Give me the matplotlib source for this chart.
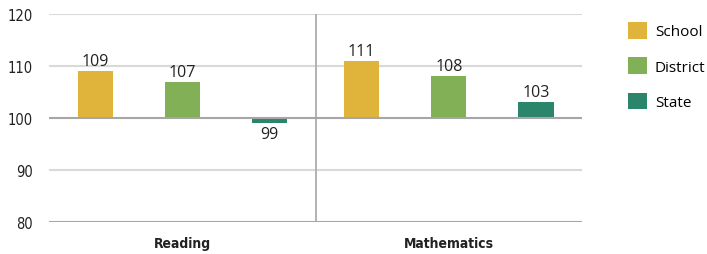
import numpy as np
import matplotlib
matplotlib.use('Agg')
import matplotlib.pyplot as plt
from matplotlib.patches import Patch

subjects = ['Reading', 'Mathematics']
series = ['School', 'District', 'State']
school = [109, 111]
district = [107, 108]
state = [99, 103]
colors = ['#E0B33A', '#82B056', '#2A856A']
baseline = 100

narrow = ['DejaVu Sans']
plain = ['Open Sans', 'DejaVu Sans']

fig = plt.figure(figsize=(7.07, 2.55), dpi=100)
ax = fig.add_axes([0.0693, 0.1255, 0.754, 0.8157])

x = np.arange(len(subjects)) + 0.5
offsets = [-0.327, 0.0, 0.327]
width = 0.1316
for vals, off, c in zip([school, district, state], offsets, colors):
    for xi, v in zip(x, vals):
        ax.bar(xi + off, v - baseline, width, bottom=baseline, color=c, zorder=3)
        if v >= baseline:
            ax.text(xi + off, v + 0.4, str(v), ha='center', va='bottom',
                    fontsize=11.5, family=plain, color='#222222')
        else:
            ax.text(xi + off, v - 0.5, str(v), ha='center', va='top',
                    fontsize=11.5, family=plain, color='#222222')

ax.set_xlim(0, 2)
ax.set_ylim(80, 120)
ax.set_yticks([80, 90, 100, 110, 120])
for y in [90, 110, 120]:
    ax.axhline(y, color='#D9D9D9', lw=1.5, zorder=1)
ax.axhline(100, color='#A6A6A6', lw=1.5, zorder=4)
ax.axhline(80, color='#A6A6A6', lw=1.5, zorder=4)
ax.axvline(1, color='#A6A6A6', lw=1.2, zorder=4)

for s in ax.spines.values():
    s.set_visible(False)
ax.tick_params(axis='y', length=0, pad=11.5)
ax.set_xticks(x)
ax.set_xticklabels(subjects, family=narrow, fontweight='bold', fontsize=10,
                   fontstretch='condensed', color='#222222')
ax.tick_params(axis='x', length=0, pad=10)
for lab in ax.get_yticklabels():
    lab.set_family(narrow)
    lab.set_fontsize(10.5)
    lab.set_fontstretch('condensed')
    lab.set_color('#222222')

handles = [Patch(facecolor=c, edgecolor='none') for c in colors]
fig.legend(handles, series, loc='upper left', bbox_to_anchor=(0.888, 0.91),
           frameon=False, prop={'family': plain, 'size': 11},
           borderpad=0, borderaxespad=0,
           handlelength=1.27, handleheight=1.3, handletextpad=0.5, labelspacing=1.17)

fig.savefig('out.png', dpi=100)
